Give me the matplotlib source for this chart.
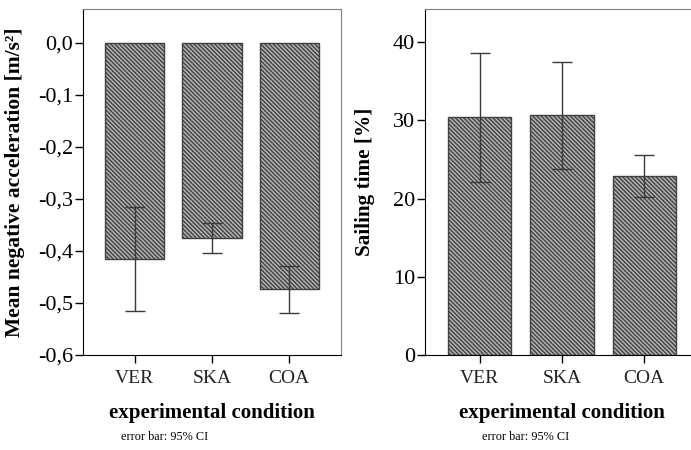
import matplotlib.pyplot as plt
from matplotlib.ticker import FuncFormatter

conditions = ['VER', 'SKA', 'COA']

# mean negative acceleration [m/s²] with 95% CI
accel_mean = [-0.415, -0.376, -0.474]
accel_ci_low = [-0.515, -0.404, -0.520]
accel_ci_high = [-0.315, -0.347, -0.428]

# sailing time [%] with 95% CI
sail_mean = [30.4, 30.7, 22.9]
sail_ci_low = [22.1, 23.8, 20.2]
sail_ci_high = [38.6, 37.5, 25.6]

plt.rcParams['font.family'] = ['Liberation Serif', 'DejaVu Serif']
plt.rcParams['hatch.color'] = '#303030'
plt.rcParams['hatch.linewidth'] = 1.0

fig = plt.figure(figsize=(6.91, 4.5), dpi=100)
ax1 = fig.add_axes([0.1201, 0.2111, 0.3734, 0.7678])
ax2 = fig.add_axes([0.6146, 0.2111, 0.3974, 0.7678])


def draw(ax, means, lo, hi):
    x = list(range(len(conditions)))
    ax.bar(x, means, width=0.77, color='#b4b4b4', edgecolor='#404040',
           linewidth=1.0, hatch='\\\\\\\\\\\\\\\\', zorder=2)
    err = [[m - l for m, l in zip(means, lo)], [h - m for m, h in zip(means, hi)]]
    ax.errorbar(x, means, yerr=err, fmt='none', ecolor='#3a3a3a',
                elinewidth=1.0, capsize=7, capthick=1.0, zorder=3)
    ax.set_xlim(-0.67, 2.67)
    ax.set_xticks(x)
    ax.set_xticklabels(conditions, fontsize=14, color='#222222')
    for s in ['top', 'right']:
        ax.spines[s].set_color('#808080')
    for s in ['left', 'bottom']:
        ax.spines[s].set_color('black')
    ax.tick_params(axis='both', direction='out', length=6, width=1)
    ax.tick_params(axis='x', pad=5)
    ax.tick_params(axis='y', labelsize=16, pad=1)
    ax.set_xlabel('experimental condition', fontsize=15, fontweight='bold', labelpad=11)


draw(ax1, accel_mean, accel_ci_low, accel_ci_high)
ax1.set_ylim(-0.6, 0.064)
ax1.set_yticks([0.0, -0.1, -0.2, -0.3, -0.4, -0.5, -0.6])
ax1.yaxis.set_major_formatter(FuncFormatter(lambda v, p: ('%.1f' % v).replace('.', ',').replace('-0,0', '0,0')))
ax1.set_ylabel('Mean negative acceleration [m/s²]', fontsize=15.5, fontweight='bold')
ax1.yaxis.set_label_coords(-0.225, 0.50)

draw(ax2, sail_mean, sail_ci_low, sail_ci_high)
ax2.set_ylim(0, 44.2)
ax2.set_yticks([0, 10, 20, 30, 40])
ax2.set_ylabel('Sailing time [%]', fontsize=15.3, fontweight='bold')
ax2.yaxis.set_label_coords(-0.181, 0.5)

fig.text(165 / 691, 1 - 437 / 450, 'error bar: 95% CI', fontsize=8.8, ha='center', va='center')
fig.text(526 / 691, 1 - 437 / 450, 'error bar: 95% CI', fontsize=8.8, ha='center', va='center')

fig.savefig('out.png', dpi=100)
